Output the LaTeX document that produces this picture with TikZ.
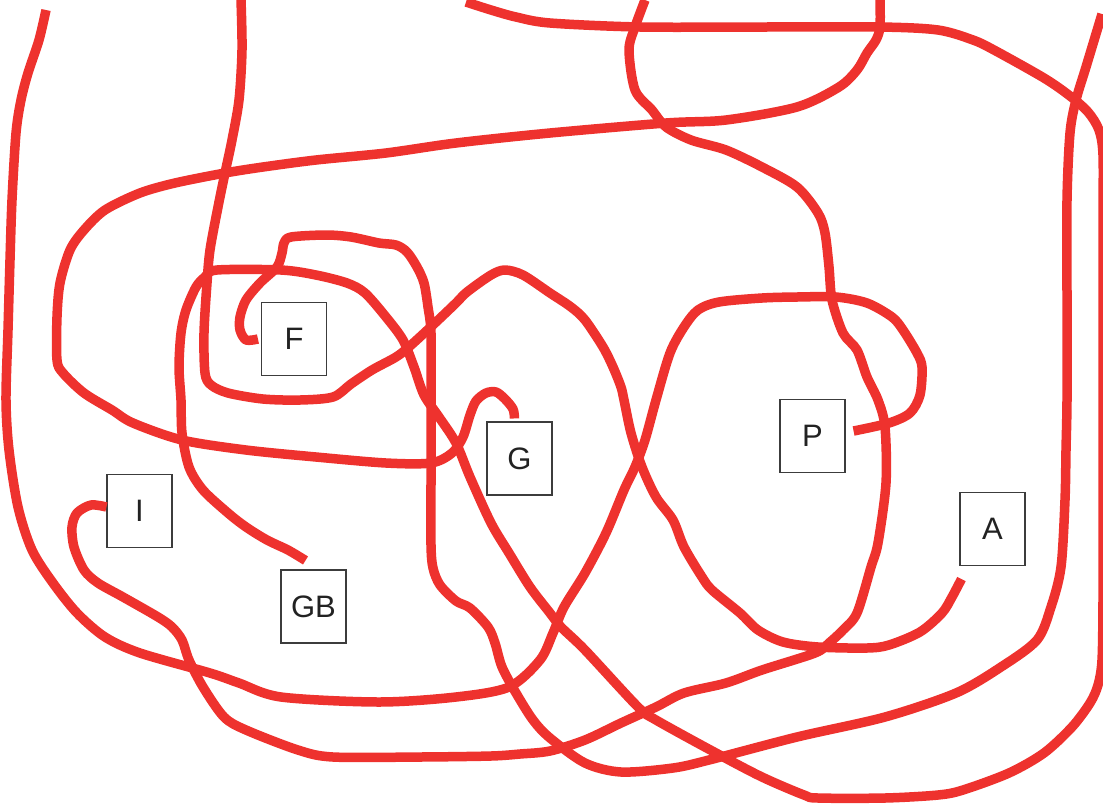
\documentclass[tikz,border=0pt]{standalone}
\usepackage{fontspec}
\setmainfont{Liberation Sans}
\definecolor{curvered}{RGB}{238,50,46}
\definecolor{boxline}{RGB}{60,60,60}
\definecolor{labeltext}{RGB}{34,34,34}
\begin{document}
\begin{tikzpicture}[x=1pt,y=-1pt,
  box/.style={draw=boxline, line width=1.1pt, minimum width=65pt, minimum height=73pt, inner sep=0pt, text=labeltext, font=\fontsize{31}{37}\selectfont},
  curve/.style={draw=curvered, line width=9.5pt, line join=round}]
\useasboundingbox (0,0) rectangle (1103,807);

\node[box] (F)  at (294,339)   {F};
\node[box] (G)  at (519.5,458.5) {G};
\node[box] (P)  at (812.5,436) {P};
\node[box] (I)  at (139.5,511) {I};
\node[box] (GB) at (313.5,606.5) {GB};
\node[box] (A)  at (992.5,529) {A};

\coordinate (pA) at ([xshift=8pt,yshift=5pt]P.east);
\coordinate (fC) at ([xshift=-3pt]F.west);
\coordinate (gE) at ([xshift=-5pt,yshift=3pt]G.north);
\coordinate (iG) at ([yshift=4pt]I.west);
\coordinate (gbD) at ([xshift=-8pt,yshift=9pt]GB.north);
\coordinate (aB) at ([xshift=2pt,yshift=-13pt]A.south west);

\coordinate (endA) at (46,10);
\coordinate (endB) at (241,0);
\coordinate (endC) at (1102,14);
\coordinate (endD) at (466,2);
\coordinate (endE) at (880,0);
\coordinate (endG) at (645,0);

% P -> top left
\draw[curve] plot[smooth, tension=0.5] coordinates {(pA) (889,423) (910,413) (920,395) (922,367) (917,353) (903,330) (892,317) (867,303) (836,297) (797,297) (762,298) (719,302) (698,310) (684,327) (670,353) (656,400) (645,440) (635,467) (624,490) (606,533) (585,573) (564,607) (553,633) (540,660) (509,687) (456,697) (379,702) (281,697) (239,683) (210,673) (140,653) (105,637) (77,613) (53,583) (32,550) (18,507) (9,450) (6,400) (8,330) (10,260) (12,200) (16,133) (21,100) (28,73) (39,40) (endA)};

% top -> A
\draw[curve] plot[smooth, tension=0.5] coordinates {(endB) (242,50) (239,100) (232,140) (225,173) (218,207) (210,250) (207,283) (204,333) (205,373) (211,385) (228,393) (263,399) (300,400) (333,397) (351,384) (372,370) (396,357) (410,346) (435,323) (456,303) (467,292) (491,275) (505,270) (523,275) (550,293) (571,307) (585,320) (603,347) (613,367) (621,387) (624,400) (631,433) (642,467) (656,497) (673,520) (684,547) (702,577) (712,590) (740,613) (758,630) (783,642) (818,647) (867,648) (889,645) (920,632) (942,613) (952,597) (aB)};

% F -> top right
\draw[curve] plot[smooth, tension=0.5] coordinates {(fC) (246,340) (240,330) (240,317) (246,300) (260,283) (277,267) (282,253) (284,243) (291,237) (326,235) (351,237) (379,243) (396,245) (407,252) (417,267) (424,283) (428,307) (431,333) (431,400) (431,480) (431,545) (433,568) (440,585) (456,601) (470,608) (488,627) (495,643) (502,667) (516,693) (533,720) (550,738) (585,763) (621,772) (673,768) (709,760) (797,737) (885,717) (956,693) (1001,667) (1037,640) (1051,607) (1061,567) (1065,500) (1066,450) (1067,400) (1067,300) (1067,200) (1070,133) (1076,100) (1086,67) (endC)};

% top -> right -> bottom -> GB
\draw[curve] plot[smooth, tension=0.5] coordinates {(endD) (491,10) (516,17) (550,23) (640,27) (760,27) (880,27) (938,30) (973,40) (994,50) (1044,78) (1070,96) (1088,112) (1099,130) (1103,155) (1103,220) (1103,300) (1103,400) (1103,500) (1103,600) (1102,660) (1098,685) (1090,703) (1072,727) (1044,753) (1009,773) (963,790) (938,795) (885,798) (818,798) (804,795) (762,777) (716,753) (656,720) (638,707) (585,650) (561,627) (550,613) (530,587) (509,553) (491,523) (470,477) (456,443) (439,417) (424,395) (414,367) (403,340) (386,317) (365,293) (347,283) (316,275) (281,270) (217,270) (205,277) (196,287) (186,310) (181,333) (179,367) (181,400) (182,433) (189,467) (203,490) (228,513) (246,527) (267,540) (288,550) (gbD)};

% top -> left loop -> G
\draw[curve] plot[smooth, tension=0.5] coordinates {(endE) (880,27) (876,40) (867,53) (857,70) (839,87) (797,107) (726,120) (666,123) (550,133) (456,143) (386,153) (316,160) (263,167) (225,173) (175,183) (140,193) (105,210) (84,230) (70,250) (60,283) (57,317) (57,360) (63,373) (84,393) (112,410) (133,423) (182,440) (246,450) (316,457) (386,463) (431,463) (452,453) (463,437) (470,415) (476,401) (486,393) (496,392) (505,399) (513,409) (gE)};

% top -> I
\draw[curve] plot[smooth, tension=0.5] coordinates {(endG) (635,27) (629,50) (635,90) (652,110) (666,127) (691,140) (726,150) (762,167) (797,187) (818,213) (825,233) (829,267) (832,300) (843,333) (857,350) (867,377) (878,400) (885,427) (886,483) (878,543) (871,567) (857,613) (843,630) (829,643) (815,653) (762,670) (726,683) (684,693) (656,707) (621,723) (585,740) (550,751) (520,754) (491,756) (420,757) (333,757) (298,750) (246,730) (224,717) (203,687) (189,660) (182,640) (172,627) (158,617) (123,597) (98,583) (84,570) (74,547) (72,527) (77,513) (91,505) (iG)};
\end{tikzpicture}
\end{document}
